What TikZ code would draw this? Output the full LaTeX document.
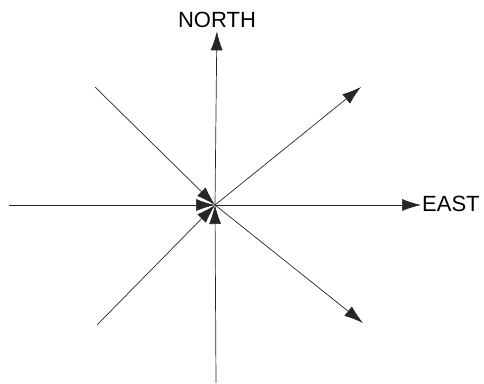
\documentclass[tikz,border=0pt]{standalone}
\usepackage{fontspec}
\setmainfont{Liberation Sans}
\usetikzlibrary{arrows.meta}

\begin{document}
\begin{tikzpicture}[x=1pt, y=-1pt, >={Latex[length=19pt,width=12pt]},
	ray/.style={->, black!85, line width=0.7pt},
	compass/.style={font=\fontsize{22}{25}\selectfont, text=black}]
	% 1. 画布范围
	\useasboundingbox (0,0) rectangle (484,383);
	
	% 2. 中心点与端点
	\coordinate (O) at (215,205);
	\coordinate (ne) at (361,87);
	\coordinate (se) at (363,323);
	\coordinate (nw) at (95,87);
	\coordinate (w) at (9,205);
	\coordinate (sw) at (97,325);
	\coordinate (s) at (216,383);
	
	% 3. 方向标注
	\node[compass] (north) at (217,20) {NORTH};
	\node[compass, anchor=west, inner sep=1pt] (east) at (421,204) {EAST};
	
	% 4. 由中心向外的箭头
	\draw[ray] (O) -- (north);
	\draw[ray] (O) -- (east.west |- O);
	\draw[ray] (O) -- (ne);
	\draw[ray] (O) -- (se);
	
	% 5. 指向中心的箭头
	\draw[ray] (nw) -- (O);
	\draw[ray] (w) -- (O);
	\draw[ray] (sw) -- (O);
	\draw[ray] (s) -- (O);
	
\end{tikzpicture}
\end{document}
